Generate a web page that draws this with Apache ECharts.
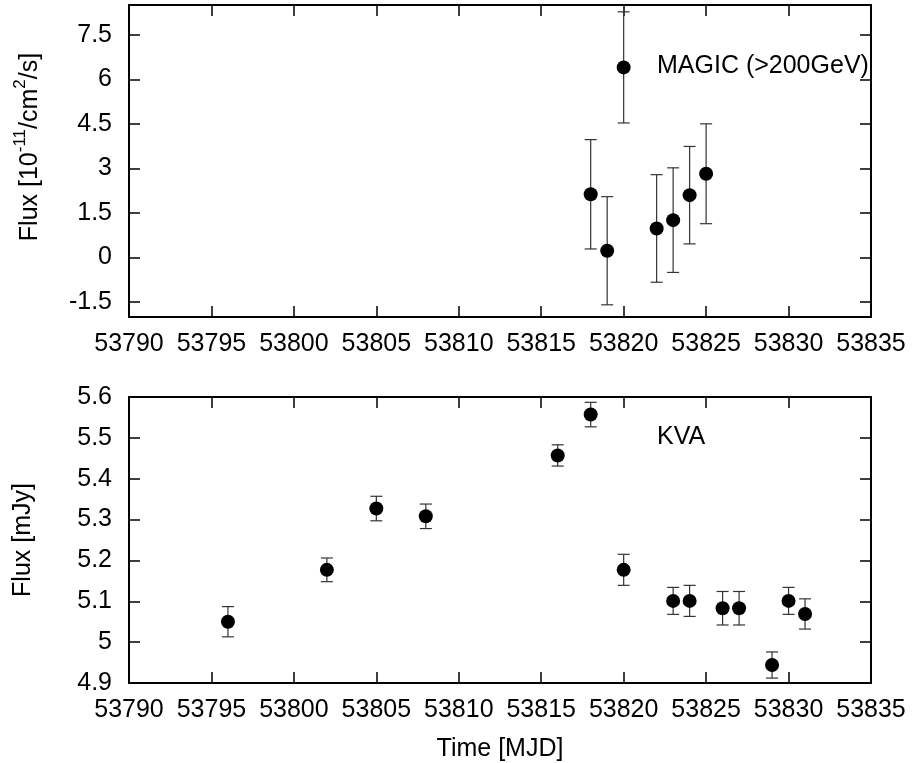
<!DOCTYPE html>
<html>
<head>
<meta charset="utf-8">
<script src="https://cdn.jsdelivr.net/npm/echarts@6/dist/echarts.min.js"></script>
<style>
  html, body { margin: 0; padding: 0; background: #fff; }
  #chart { width: 912px; height: 763px; }
</style>
</head>
<body>
<div id="chart"></div>
<script>
// MAGIC (>200GeV) light curve
const magicTime = [53818, 53819, 53820, 53822, 53823, 53824, 53825];
const magicFlux = [2.13, 0.23, 6.40, 0.98, 1.26, 2.10, 2.82];
const magicErr = [1.84, 1.82, 1.87, 1.81, 1.76, 1.64, 1.68];

// KVA optical light curve
const kvaTime = [53796, 53802, 53805, 53808, 53816, 53818, 53820, 53823, 53824, 53826, 53827, 53829, 53830, 53831];
const kvaFlux = [5.050, 5.177, 5.327, 5.308, 5.457, 5.557, 5.177, 5.101, 5.101, 5.083, 5.083, 4.944, 5.101, 5.069];
const kvaErr = [0.037, 0.029, 0.030, 0.030, 0.026, 0.030, 0.038, 0.033, 0.038, 0.041, 0.041, 0.032, 0.033, 0.037];

const magicTicks = [-1.5, 0, 1.5, 3, 4.5, 6, 7.5];

const FONT = '"Liberation Sans", Arial, sans-serif';
const FS = 25;

let chart = echarts.init(document.getElementById('chart'));

function errBar(params, api) {
  let x = api.value(0), y = api.value(1), e = api.value(2);
  let hi = api.coord([x, y + e]);
  let lo = api.coord([x, y - e]);
  let w = 6;
  let st = { stroke: '#333', lineWidth: 1.2 };
  return {
    type: 'group',
    children: [
      { type: 'line', shape: { x1: hi[0], y1: hi[1], x2: lo[0], y2: lo[1] }, style: st },
      { type: 'line', shape: { x1: hi[0] - w, y1: hi[1], x2: hi[0] + w, y2: hi[1] }, style: st },
      { type: 'line', shape: { x1: lo[0] - w, y1: lo[1], x2: lo[0] + w, y2: lo[1] }, style: st }
    ]
  };
}

const axisLine = { show: true, onZero: false, lineStyle: { color: '#000', width: 2 } };
const tick = { show: true, inside: true, length: 11, lineStyle: { color: '#000', width: 1.5 } };
const label = { color: '#000', fontSize: FS, fontFamily: FONT };

function timeAxis(grid, pos, showLabel, extra) {
  return Object.assign({
    type: 'value', gridIndex: grid, position: pos,
    min: 53790, max: 53835, interval: 5,
    axisLine: axisLine, axisTick: tick, splitLine: { show: false },
    axisLabel: Object.assign({ show: showLabel, margin: 15, formatter: v => String(v) }, label)
  }, extra || {});
}

let option = {
  animation: false,
  backgroundColor: '#fff',
  grid: [
    { left: 129, right: 41, top: 5, height: 312 },
    { left: 129, right: 41, top: 397, height: 286 }
  ],
  xAxis: [
    timeAxis(0, 'bottom', true),
    timeAxis(0, 'top', false),
    timeAxis(1, 'bottom', true, {
      name: 'Time [MJD]', nameLocation: 'middle', nameGap: 54,
      nameTextStyle: { color: '#000', fontSize: FS, fontFamily: FONT }
    }),
    timeAxis(1, 'top', false)
  ],
  yAxis: [
    {
      type: 'value', gridIndex: 0, position: 'left', min: -2, max: 8.5,
      axisLine: axisLine, splitLine: { show: false },
      axisTick: Object.assign({ customValues: magicTicks }, tick),
      axisLabel: Object.assign({ margin: 17, customValues: magicTicks }, label)
    },
    {
      type: 'value', gridIndex: 0, position: 'right', min: -2, max: 8.5,
      axisLine: axisLine, splitLine: { show: false },
      axisTick: Object.assign({ customValues: magicTicks }, tick),
      axisLabel: { show: false }
    },
    {
      type: 'value', gridIndex: 1, position: 'left', min: 4.9, max: 5.6, interval: 0.1,
      axisLine: axisLine, axisTick: tick, splitLine: { show: false },
      axisLabel: Object.assign({ margin: 17, formatter: v => String(+v.toFixed(1)) }, label)
    },
    {
      type: 'value', gridIndex: 1, position: 'right', min: 4.9, max: 5.6, interval: 0.1,
      axisLine: axisLine, axisTick: tick, splitLine: { show: false },
      axisLabel: { show: false }
    }
  ],
  graphic: [
    {
      type: 'text', x: 27, y: 147, rotation: Math.PI / 2,
      style: {
        text: '{a|Flux [10}{s|-11}{a|/cm}{s|2}{a|/s]}',
        align: 'center', verticalAlign: 'middle',
        rich: {
          a: { fontSize: FS, fontFamily: FONT, fill: '#000', lineHeight: 31, verticalAlign: 'bottom' },
          s: { fontSize: 17, fontFamily: FONT, fill: '#000', lineHeight: 17, verticalAlign: 'top' }
        }
      }
    },
    {
      type: 'text', x: 23, y: 540, rotation: Math.PI / 2,
      style: { text: 'Flux [mJy]', align: 'center', verticalAlign: 'middle', fontSize: FS, fontFamily: FONT, fill: '#000' }
    },
    {
      type: 'text', left: 657, top: 54,
      style: { text: 'MAGIC (>200GeV)', fontSize: FS, fontFamily: FONT, fill: '#000' }
    },
    {
      type: 'text', left: 657, top: 425,
      style: { text: 'KVA', fontSize: FS, fontFamily: FONT, fill: '#000' }
    }
  ],
  series: [
    {
      type: 'custom', xAxisIndex: 0, yAxisIndex: 0, renderItem: errBar, z: 2,
      data: magicTime.map((t, i) => [t, magicFlux[i], magicErr[i]])
    },
    {
      type: 'scatter', xAxisIndex: 0, yAxisIndex: 0, symbolSize: 14, z: 3,
      itemStyle: { color: '#000', opacity: 1 },
      data: magicTime.map((t, i) => [t, magicFlux[i]])
    },
    {
      type: 'custom', xAxisIndex: 2, yAxisIndex: 2, renderItem: errBar, z: 2,
      data: kvaTime.map((t, i) => [t, kvaFlux[i], kvaErr[i]])
    },
    {
      type: 'scatter', xAxisIndex: 2, yAxisIndex: 2, symbolSize: 14, z: 3,
      itemStyle: { color: '#000', opacity: 1 },
      data: kvaTime.map((t, i) => [t, kvaFlux[i]])
    }
  ]
};
chart.setOption(option);
</script>
</body>
</html>
